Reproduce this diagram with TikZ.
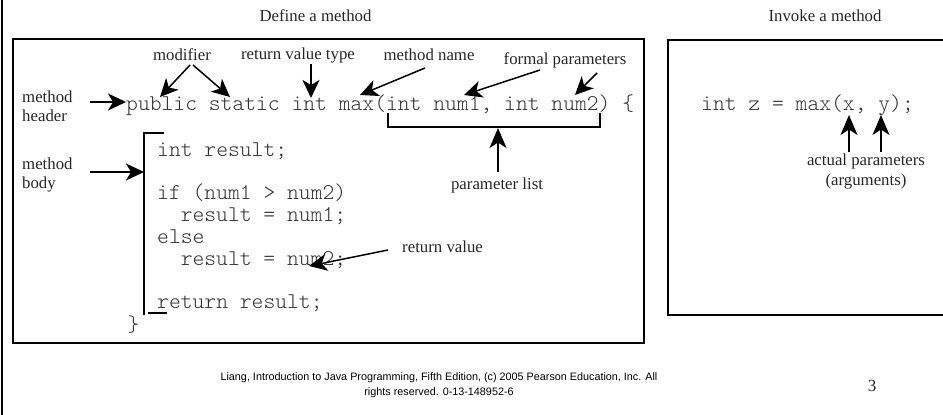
\documentclass[tikz,border=0pt]{standalone}
\usepackage{fontspec}
\setmainfont{Liberation Serif}
\newfontfamily\footfont{Liberation Sans}
\usetikzlibrary{arrows.meta}
\begin{document}
\begin{tikzpicture}[x=1pt,y=-1pt,
  lbl/.style={inner sep=0pt, font=\fontsize{16.8}{19.5}\selectfont, text=black!85},
  code/.style={inner sep=0pt, anchor=base west, font=\ttfamily\fontseries{l}\fontsize{22.5}{22}\selectfont, text=black!80},
  box/.style={line width=1.6pt},
  arr/.style={line width=1.5pt, -{Stealth[length=18pt,width=17pt,inset=5pt]}},
  varr/.style={line width=1.5pt, -{Stealth[length=20pt,width=17pt,inset=5.5pt]}},
  brk/.style={line width=1.5pt}
]
\useasboundingbox (0,0) rectangle (943,415);
% page left rule
\draw[line width=2.4pt] (2,0) -- (2,415);
% titles
\node[lbl] (define) at (315.5,16) {Define a method};
\node[lbl] (invoke) at (825,16) {Invoke a method};
% boxes
\draw[box] (13,39) rectangle (644,343);
\draw[box] (943,40) -- (668,40) -- (668,315) -- (943,315);
% header labels
\node[lbl] (modifier) at (182,55) {modifier};
\node[lbl] (rvt) at (298,55) {return value type};
\node[lbl] (mname) at (429,55) {method name};
\node[lbl] (formal) at (565,60) {formal parameters};
\node[lbl, align=left, anchor=west] (mheader) at (22,106.5) {method\\header};
\node[lbl, align=left, anchor=west] (mbody) at (22,175) {method\\body};
% code
\node[code] (hdr) at (126,110) {public static int max(int num1, int num2) \{};
\node[code] (l1) at (157,156) {int result;};
\node[code] (l2) at (157,199.5) {if (num1 > num2)};
\node[code] (l3) at (180.6,221.4) {result = num1;};
\node[code] (l4) at (157,243.2) {else};
\node[code] (l5) at (180.6,265) {result = num2;};
\node[code] (l6) at (157,308.6) {return result;};
\node[code] (l7) at (127.5,331) {\}};
% coordinates
\coordinate (mh-from) at (90,102);
\coordinate (mh-to) at (126,102);
\coordinate (mod-from1) at (190,65);
\coordinate (mod-from2) at (193,65);
\coordinate (c-pub) at (160,97);
\coordinate (c-stat) at (230,97);
\coordinate (rvt-from) at (311,64);
\coordinate (c-int) at (311,98);
\coordinate (mn-from) at (425,68);
\coordinate (c-max) at (360,95);
\coordinate (fp-from1) at (540,70);
\coordinate (fp-from2) at (597,73);
\coordinate (c-num1) at (464,95);
\coordinate (c-num2) at (575,95);
\coordinate (mb-from) at (90,172);
\coordinate (mb-to) at (144,172);
% arrows in header
\draw[arr] (mh-from) -- (mh-to);
\draw[arr] (mod-from1) -- (c-pub);
\draw[arr] (mod-from2) -- (c-stat);
\draw[arr] (rvt-from) -- (c-int);
\draw[arr] (mn-from) -- (c-max);
\draw[arr] (fp-from1) -- (c-num1);
\draw[arr] (fp-from2) -- (c-num2);
\draw[arr] (mb-from) -- (mb-to);
% parameter list bracket
\draw[brk] (388,113) -- (388,127) -- (600,127) -- (600,113);
\node[lbl] (plist) at (497,185) {parameter list};
\coordinate (pl-from) at (498,172);
\coordinate (pl-to) at (498,128);
\draw[varr] (pl-from) -- (pl-to);
% body bracket
\draw[brk] (164,133) -- (144,133) -- (144,315);
\draw[brk] (148,313) -- (167,313);
% return value
\node[lbl, anchor=west] (rv) at (402,247) {return value};
\coordinate (rv-from) at (388,250);
\coordinate (c-num2b) at (309,266);
\draw[arr] (rv-from) -- (c-num2b);
% invoke
\node[code] (call) at (701,110) {int z = max(x, y);};
\node[lbl, align=center] (actual) at (866,171.5) {actual parameters\\(arguments)};
\coordinate (ax-from) at (849,152);
\coordinate (ax-to) at (849,115);
\coordinate (ay-from) at (881,152);
\coordinate (ay-to) at (881,115);
\draw[varr] (ax-from) -- (ax-to);
\draw[varr] (ay-from) -- (ay-to);
% footer
\node[inner sep=0pt, align=center, font=\footfont\fontsize{10.8}{15}\selectfont] (foot) at (439,385.5) {Liang, Introduction to Java Programming, Fifth Edition, (c) 2005 Pearson Education, Inc. All\\rights reserved. 0-13-148952-6};
\node[lbl, font=\fontsize{17}{19}\selectfont] (page) at (872,386) {3};
\end{tikzpicture}
\end{document}
